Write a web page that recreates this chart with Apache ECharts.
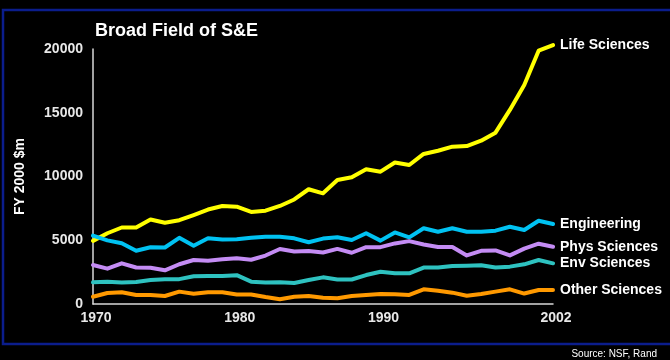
<!DOCTYPE html>
<html>
<head>
<meta charset="utf-8">
<title>Broad Field of S&amp;E</title>
<script src="https://cdn.jsdelivr.net/npm/echarts@6/dist/echarts.min.js"></script>
<style>
  html, body { margin: 0; padding: 0; background: #000; }
  #chart { width: 670px; height: 360px; }
</style>
</head>
<body>
<div id="chart"></div>
<script>
// Federal research funding by broad field of science & engineering, FY 2000 $ millions
const years = ['1970','1971','1972','1973','1974','1975','1976','1977','1978','1979',
               '1980','1981','1982','1983','1984','1985','1986','1987','1988','1989',
               '1990','1991','1992','1993','1994','1995','1996','1997','1998','1999',
               '2000','2001','2002'];
const yearTickLabels = ['1970', '1980', '1990', '2002'];
const valueTicks = [0, 5000, 10000, 15000, 20000];

const lifeSciences = [4950, 5550, 6000, 6000, 6630, 6370, 6570, 6980, 7410, 7690,
                      7630, 7220, 7320, 7690, 8200, 9000, 8680, 9730, 9940, 10570,
                      10380, 11100, 10900, 11770, 12020, 12340, 12390, 12810, 13440, 15220,
                      17180, 19870, 20310];
const engineering = [5360, 4990, 4760, 4180, 4450, 4430, 5190, 4570, 5150, 5050,
                     5080, 5190, 5280, 5270, 5150, 4840, 5130, 5230, 5020, 5550,
                     4970, 5610, 5230, 5940, 5670, 5940, 5670, 5670, 5750, 6060,
                     5800, 6530, 6270];
const physSciences = [3060, 2770, 3190, 2860, 2850, 2640, 3120, 3450, 3400, 3510,
                      3590, 3470, 3800, 4310, 4120, 4150, 4040, 4320, 4020, 4460,
                      4460, 4750, 4930, 4670, 4470, 4470, 3810, 4170, 4200, 3810,
                      4340, 4730, 4490];
const envSciences = [1700, 1750, 1690, 1730, 1880, 1940, 1950, 2170, 2200, 2200,
                     2260, 1750, 1690, 1710, 1650, 1880, 2090, 1920, 1920, 2270,
                     2530, 2410, 2410, 2860, 2860, 2980, 3000, 3040, 2860, 2930,
                     3110, 3450, 3190];
const otherSciences = [570, 860, 920, 710, 710, 630, 970, 810, 930, 920,
                       750, 750, 550, 380, 570, 630, 490, 450, 630, 710,
                       780, 760, 710, 1150, 1040, 890, 650, 780, 970, 1150,
                       820, 1100, 1100];

const fieldNames = ['Life Sciences', 'Engineering', 'Phys Sciences', 'Env Sciences', 'Other Sciences'];
const fieldValues = [lifeSciences, engineering, physSciences, envSciences, otherSciences];
const fieldColors = ['#ffff00', '#00c2f2', '#c48cf4', '#2ec2c0', '#ff9900'];

const FONT = '"Liberation Sans", Arial, Helvetica, sans-serif';

const chart = echarts.init(document.getElementById('chart'), null, { renderer: 'canvas' });

const series = fieldNames.map((name, i) => ({
  name: name,
  type: 'line',
  data: fieldValues[i],
  symbol: 'none',
  clip: false,
  lineStyle: { width: 4, color: fieldColors[i], join: 'round', cap: 'round' },
  itemStyle: { color: fieldColors[i] },
  emphasis: { disabled: true },
  endLabel: {
    show: true,
    formatter: '{a}',
    color: '#ffffff',
    fontFamily: FONT,
    fontWeight: 'bold',
    fontSize: 14,
    distance: 7
  }
}));

chart.setOption({
  backgroundColor: '#000000',
  animation: false,
  title: {
    text: 'Broad Field of S&E',
    left: 95,
    top: 22,
    padding: 0,
    textStyle: { color: '#ffffff', fontFamily: FONT, fontWeight: 'bold', fontSize: 18 }
  },
  grid: { left: 93, right: 117, top: 49, bottom: 56, containLabel: false },
  xAxis: {
    type: 'category',
    data: years,
    boundaryGap: false,
    axisLine: { show: true, lineStyle: { color: '#d8d8d8', width: 1.5 } },
    axisTick: { show: false },
    splitLine: { show: false },
    axisLabel: {
      color: '#e8e8e8',
      fontFamily: FONT,
      fontWeight: 'bold',
      fontSize: 14,
      margin: 7,
      padding: [0, 0, 0, 6],
      interval: (idx, val) => yearTickLabels.includes(val)
    }
  },
  yAxis: {
    type: 'value',
    min: valueTicks[0],
    max: valueTicks[valueTicks.length - 1],
    interval: valueTicks[1] - valueTicks[0],
    name: 'FY 2000 $m',
    nameLocation: 'middle',
    nameRotate: 90,
    nameGap: 66,
    nameTextStyle: { color: '#ffffff', fontFamily: FONT, fontWeight: 'bold', fontSize: 14 },
    axisLine: { show: true, lineStyle: { color: '#d8d8d8', width: 1.5 } },
    axisTick: { show: false },
    splitLine: { show: false },
    axisLabel: {
      color: '#e8e8e8',
      fontFamily: FONT,
      fontWeight: 'bold',
      fontSize: 14,
      margin: 10,
      formatter: (v) => String(v)
    }
  },
  graphic: [
    {
      type: 'rect',
      silent: true,
      shape: { x: 3, y: 10, width: 720, height: 334 },
      style: { fill: 'none', stroke: '#0b1d8c', lineWidth: 2.5 }
    },
    {
      type: 'text',
      silent: true,
      right: 13,
      top: 349,
      style: { text: 'Source: NSF, Rand', fill: '#ffffff', font: '10px ' + FONT }
    }
  ],
  series: series
});
</script>
</body>
</html>
